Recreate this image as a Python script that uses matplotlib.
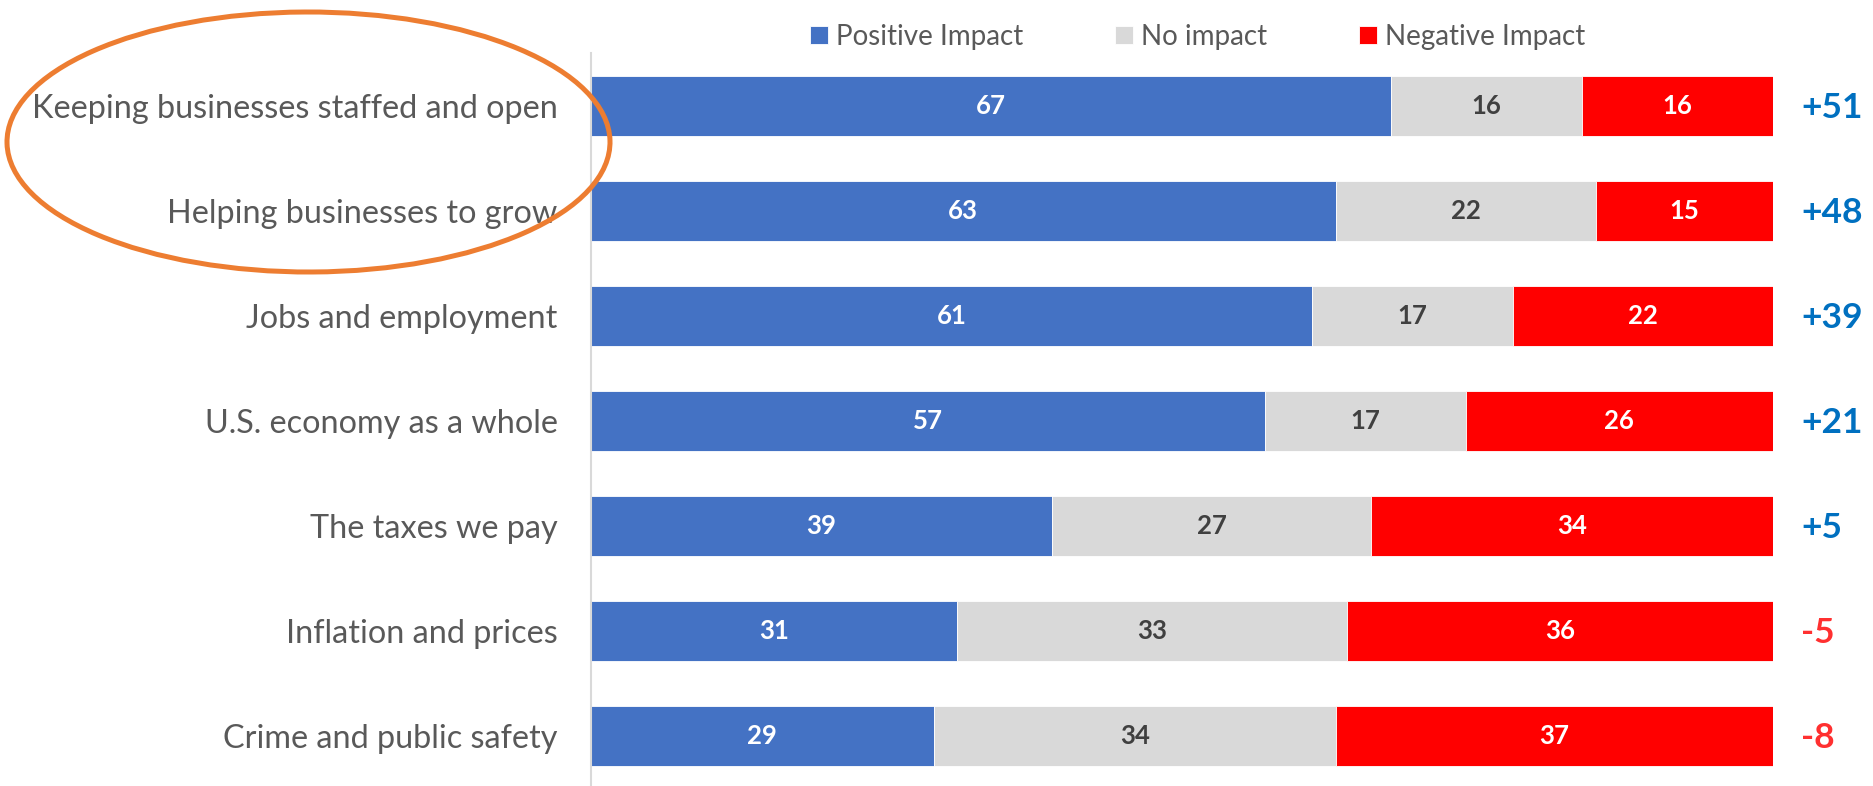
import matplotlib.pyplot as plt
import numpy as np
from matplotlib.patches import Ellipse

plt.rcParams['font.family'] = ['Lato', 'DejaVu Sans']

# data
categories = ["Keeping businesses staffed and open", "Helping businesses to grow",
              "Jobs and employment", "U.S. economy as a whole", "The taxes we pay",
              "Inflation and prices", "Crime and public safety"]
positive = [67, 63, 61, 57, 39, 31, 29]
no_impact = [16, 22, 17, 17, 27, 33, 34]
negative = [16, 15, 22, 26, 34, 36, 37]
net = ["+51", "+48", "+39", "+21", "+5", "-5", "-8"]

BLUE = "#4472C4"
GREY = "#D9D9D9"
RED = "#FF0000"
TEXT = "#595959"

# 100% stacked, like the Excel original
pos = np.array(positive, float)
non = np.array(no_impact, float)
neg = np.array(negative, float)
tot = pos + non + neg
pos_p, non_p, neg_p = pos / tot * 100, non / tot * 100, neg / tot * 100

fig = plt.figure(figsize=(18.73, 7.86), dpi=100)
ax = fig.add_axes([591 / 1873, 0, 1182 / 1873, 733 / 786])

y = np.arange(len(categories))
h = 0.571
b1 = ax.barh(y, pos_p, height=h, color=BLUE, edgecolor="white", linewidth=0.6, label="Positive Impact")
b2 = ax.barh(y, non_p, left=pos_p, height=h, color=GREY, edgecolor="white", linewidth=0.6, label="No impact")
b3 = ax.barh(y, neg_p, left=pos_p + non_p, height=h, color=RED, edgecolor="white", linewidth=0.6, label="Negative Impact")

for i in range(len(categories)):
    ax.text(pos_p[i] / 2, y[i], str(positive[i]), ha="center", va="center",
            color="white", fontsize=18.5, fontweight="bold")
    ax.text(pos_p[i] + non_p[i] / 2, y[i], str(no_impact[i]), ha="center", va="center",
            color="#404040", fontsize=18.5, fontweight="bold")
    ax.text(pos_p[i] + non_p[i] + neg_p[i] / 2, y[i], str(negative[i]), ha="center", va="center",
            color="white", fontsize=18.5, fontweight="bold")
    col = "#0070C0" if net[i].startswith("+") else "#FF3030"
    ax.text(102.4, y[i] + 0.02, net[i], ha="left", va="center", color=col,
            fontsize=25.5, fontweight="bold", clip_on=False)

ax.set_xlim(0, 100)
ax.set_ylim(6.475, -0.5)
ax.set_yticks(y)
ax.set_yticklabels(categories, fontsize=23.3, color=TEXT)
ax.tick_params(axis="y", length=0, pad=24)
ax.set_xticks([])
for s in ["top", "right", "bottom"]:
    ax.spines[s].set_visible(False)
ax.spines["left"].set_color(GREY)
ax.spines["left"].set_linewidth(1.5)

leg = fig.legend(handles=[b1, b2, b3], loc="center", bbox_to_anchor=(1198 / 1873, 1 - 37 / 786),
                 ncol=3, frameon=False, fontsize=20, handlelength=0.62, handleheight=0.62,
                 handletextpad=0.32, columnspacing=3.3, labelcolor=TEXT)

# orange highlight ring around the first two labels
ring = Ellipse((308.5 / 1873, 1 - 142 / 786), 603 / 1873, 260 / 786, angle=0.7,
               transform=fig.transFigure, fill=False, edgecolor="#ED7D31", linewidth=3.6)
fig.patches.append(ring)

fig.savefig("out.png", dpi=100)
